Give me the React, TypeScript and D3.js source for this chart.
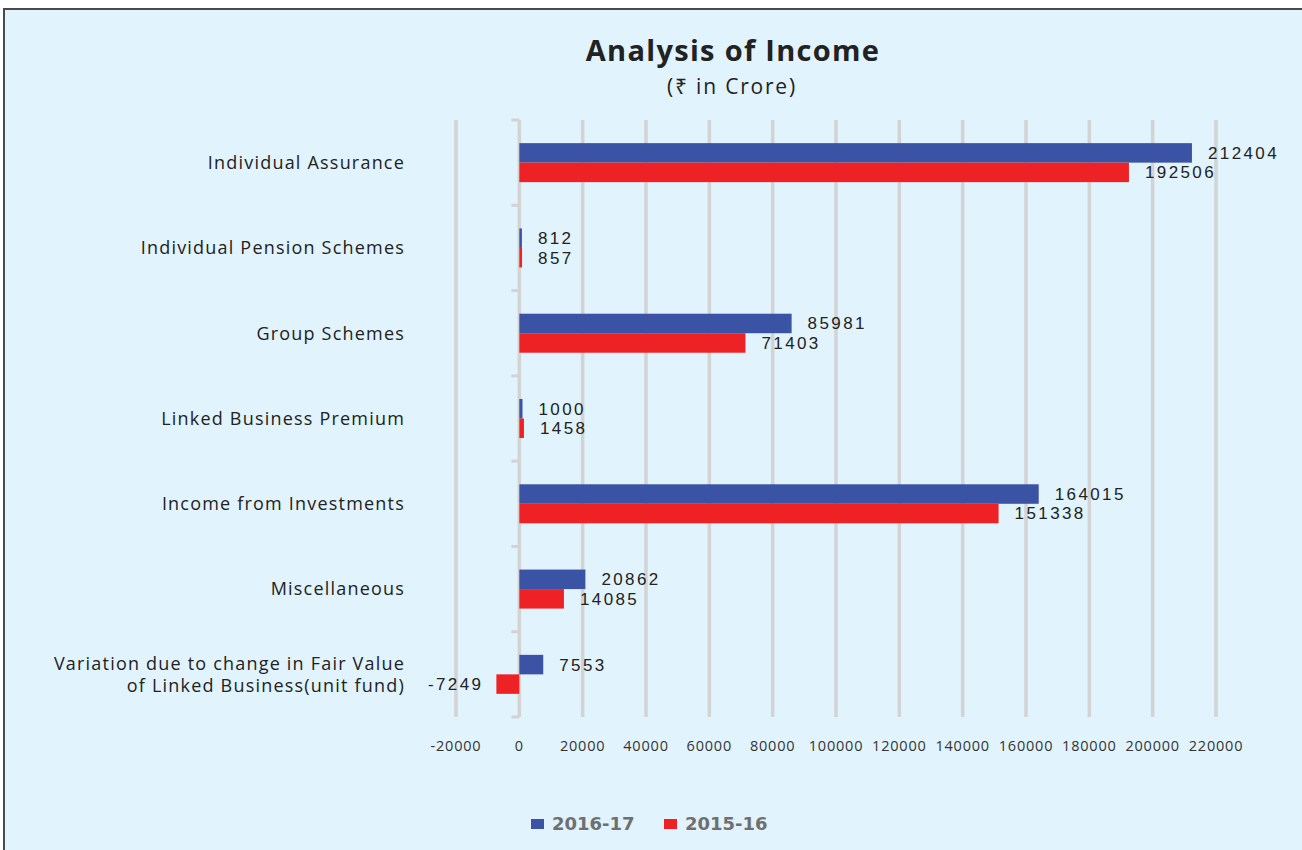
import React from "react";
import * as d3 from "d3";

const categories = [
  "Individual Assurance",
  "Individual Pension Schemes",
  "Group Schemes",
  "Linked Business Premium",
  "Income from Investments",
  "Miscellaneous",
  "Variation due to change in Fair Value|of Linked Business(unit fund)",
];
const series2016 = [212404, 812, 85981, 1000, 164015, 20862, 7553];
const series2015 = [192506, 857, 71403, 1458, 151338, 14085, -7249];
const xTicks = [-20000, 0, 20000, 40000, 60000, 80000, 100000, 120000, 140000, 160000, 180000, 200000, 220000];
const seriesNames = ["2016-17", "2015-16"];
const colors = ["#3A53A4", "#EE2224"];

const W = 1302;
const H = 850;
const FONT = "'Open Sans', 'Noto Sans', 'DejaVu Sans', sans-serif";
const VFONT = "'Liberation Sans', Arial, sans-serif";

export default function App() {
  const x = d3.scaleLinear().domain([-20000, 220000]).range([456, 1216]);
  const y = d3.scaleBand<string>().domain(categories).range([120, 717]).paddingInner(0).paddingOuter(0);
  const barH = 19.5;
  const series = [series2016, series2015];

  return (
    <svg width={W} height={H} style={{ position: "absolute", left: 0, top: 0, display: "block" }}>
      <rect x={0} y={0} width={W} height={H} fill="#ffffff" />
      <rect x={4} y={9} width={W + 10} height={H + 10} fill="#E1F3FD" stroke="#4a4a4a" strokeWidth={2} />

      <text x={733} y={61} textAnchor="middle" fontFamily={FONT} fontWeight={700} fontSize={29} letterSpacing={1.3} fill="#222">
        Analysis of Income
      </text>
      <text x={732} y={94} textAnchor="middle" fontFamily={FONT} fontSize={21} fill="#222" letterSpacing={1.8}>
        (₹ in Crore)
      </text>

      {/* gridlines */}
      {xTicks.map((t) => (
        <line key={"g" + t} x1={x(t)} x2={x(t)} y1={120} y2={717} stroke="#D3D3D3" strokeWidth={3.5} />
      ))}
      {/* y ticks */}
      {[...categories.map((c) => y(c) as number), 717].map((v, i) => (
        <line key={"yt" + i} x1={x(0) - 8} x2={x(0)} y1={v} y2={v} stroke="#D3D3D3" strokeWidth={3} />
      ))}

      {/* bars */}
      {categories.map((c, ci) => {
        const cy = (y(c) as number) + y.bandwidth() / 2;
        return series.map((s, si) => {
          const v = s[ci];
          const top = cy - barH + si * barH;
          const x0 = x(Math.min(0, v));
          const x1 = x(Math.max(0, v));
          return (
            <rect key={c + si} x={x0} y={top} width={x1 - x0} height={barH} fill={colors[si]} />
          );
        });
      })}

      {/* value labels */}
      {categories.map((c, ci) => {
        const cy = (y(c) as number) + y.bandwidth() / 2;
        return series.map((s, si) => {
          const v = s[ci];
          const ly = cy - barH / 2 + si * barH;
          const neg = v < 0;
          return (
            <text
              key={"l" + c + si}
              x={neg ? x(v) - 13 : x(v) + 16}
              y={ly}
              dy="0.35em"
              textAnchor={neg ? "end" : "start"}
              fontFamily={VFONT}
              fontSize={17}
              letterSpacing={2.4}
              fill="#222"
            >
              {v}
            </text>
          );
        });
      })}

      {/* category labels */}
      {categories.map((c) => {
        const cy = (y(c) as number) + y.bandwidth() / 2;
        const lines = c.split("|");
        return lines.map((ln, li) => (
          <text
            key={"c" + c + li}
            x={405}
            y={cy + (li - (lines.length - 1) / 2) * 22}
            dy="0.35em"
            textAnchor="end"
            fontFamily={FONT}
            fontSize={18}
            letterSpacing={1.2}
            fill="#222"
          >
            {ln}
          </text>
        ));
      })}

      {/* x tick labels */}
      {xTicks.map((t) => (
        <text key={"xt" + t} x={x(t)} y={746} dy="0.35em" textAnchor="middle" fontFamily={FONT} fontSize={14.5} letterSpacing={0.8} fill="#333">
          {t}
        </text>
      ))}

      {/* legend */}
      {seriesNames.map((n, i) => (
        <g key={"lg" + n} transform={`translate(${531 + i * 133},819)`}>
          <rect x={0} y={0} width={13} height={10} fill={colors[i]} />
          <text x={21} y={5} dy="0.36em" fontFamily="'DejaVu Sans', sans-serif" fontWeight={700} fontSize={18} fill="#6f6f6f">
            {n}
          </text>
        </g>
      ))}
    </svg>
  );
}
